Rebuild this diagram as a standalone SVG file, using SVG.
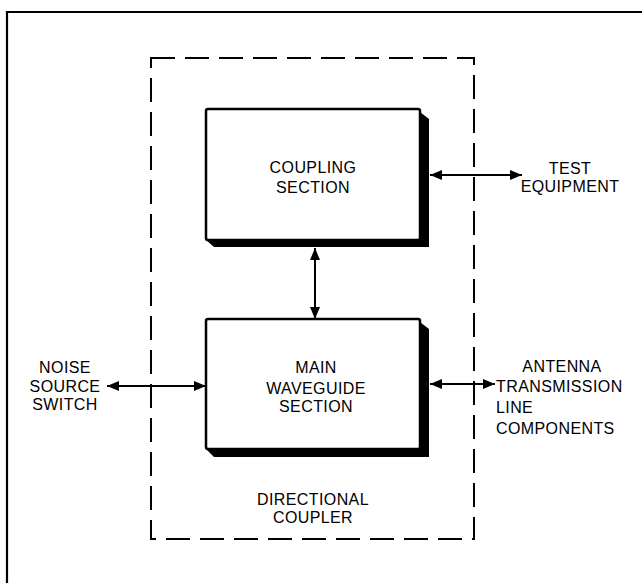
<svg xmlns="http://www.w3.org/2000/svg" width="642" height="583" viewBox="0 0 642 583">
<style>
.frame{fill:none;stroke:#000;stroke-width:2.2}
.dash{fill:none;stroke:#000;stroke-width:2;stroke-dasharray:24 10}
.box{fill:#fff;stroke:#000;stroke-width:2.5}
.shadow{fill:#000}
.conn{stroke:#000;stroke-width:2;fill:none;marker-start:url(#ah);marker-end:url(#ah)}
text{font-family:"Liberation Sans",Arial,sans-serif;font-size:16px;fill:#000;letter-spacing:0.4px}
</style>
<defs>
<marker id="ah" viewBox="0 0 12 10" refX="12" refY="5" markerWidth="12" markerHeight="10" markerUnits="userSpaceOnUse" orient="auto-start-reverse">
<path d="M0,0 L12,5 L0,10 Z" fill="#000"/>
</marker>
</defs>
<rect width="642" height="583" fill="#fff"/>
<g id="frame">
<path class="frame" d="M7,583 L7,12 L642,12"/>
</g>
<g id="directional-coupler">
<rect class="dash" x="151" y="58" width="323" height="481"/>
<text x="313" y="505" text-anchor="middle">DIRECTIONAL</text>
<text x="313" y="523" text-anchor="middle">COUPLER</text>
</g>
<g id="coupling-section">
<path class="shadow" d="M416,109 L429,119 L429,247 L214,247 L206,240 L420,240 L420,109 Z"/>
<rect class="box" x="206" y="109" width="214" height="131" rx="2"/>
<text x="313" y="173" text-anchor="middle">COUPLING</text>
<text x="313" y="193" text-anchor="middle">SECTION</text>
</g>
<g id="main-waveguide-section">
<path class="shadow" d="M416,319 L429,329 L429,457 L214,457 L206,449 L420,449 L420,319 Z"/>
<rect class="box" x="206" y="319" width="214" height="130" rx="2"/>
<text x="316" y="373" text-anchor="middle">MAIN</text>
<text x="316" y="394" text-anchor="middle">WAVEGUIDE</text>
<text x="316" y="412" text-anchor="middle">SECTION</text>
</g>
<g id="test-equipment">
<text x="570" y="174" text-anchor="middle">TEST</text>
<text x="570" y="192" text-anchor="middle">EQUIPMENT</text>
</g>
<g id="noise-source-switch">
<text x="65" y="373" text-anchor="middle">NOISE</text>
<text x="65" y="392" text-anchor="middle">SOURCE</text>
<text x="65" y="410" text-anchor="middle">SWITCH</text>
</g>
<g id="antenna-transmission-line-components">
<text x="562" y="372" text-anchor="middle">ANTENNA</text>
<text x="496" y="392">TRANSMISSION</text>
<text x="496" y="413">LINE</text>
<text x="496" y="434">COMPONENTS</text>
</g>
<g id="connectors">
<line class="conn" x1="430" y1="175" x2="522" y2="175"/>
<line class="conn" x1="315" y1="248" x2="315" y2="319"/>
<line class="conn" x1="107" y1="386" x2="206" y2="386"/>
<line class="conn" x1="430" y1="384" x2="495" y2="384"/>
</g>
</svg>
